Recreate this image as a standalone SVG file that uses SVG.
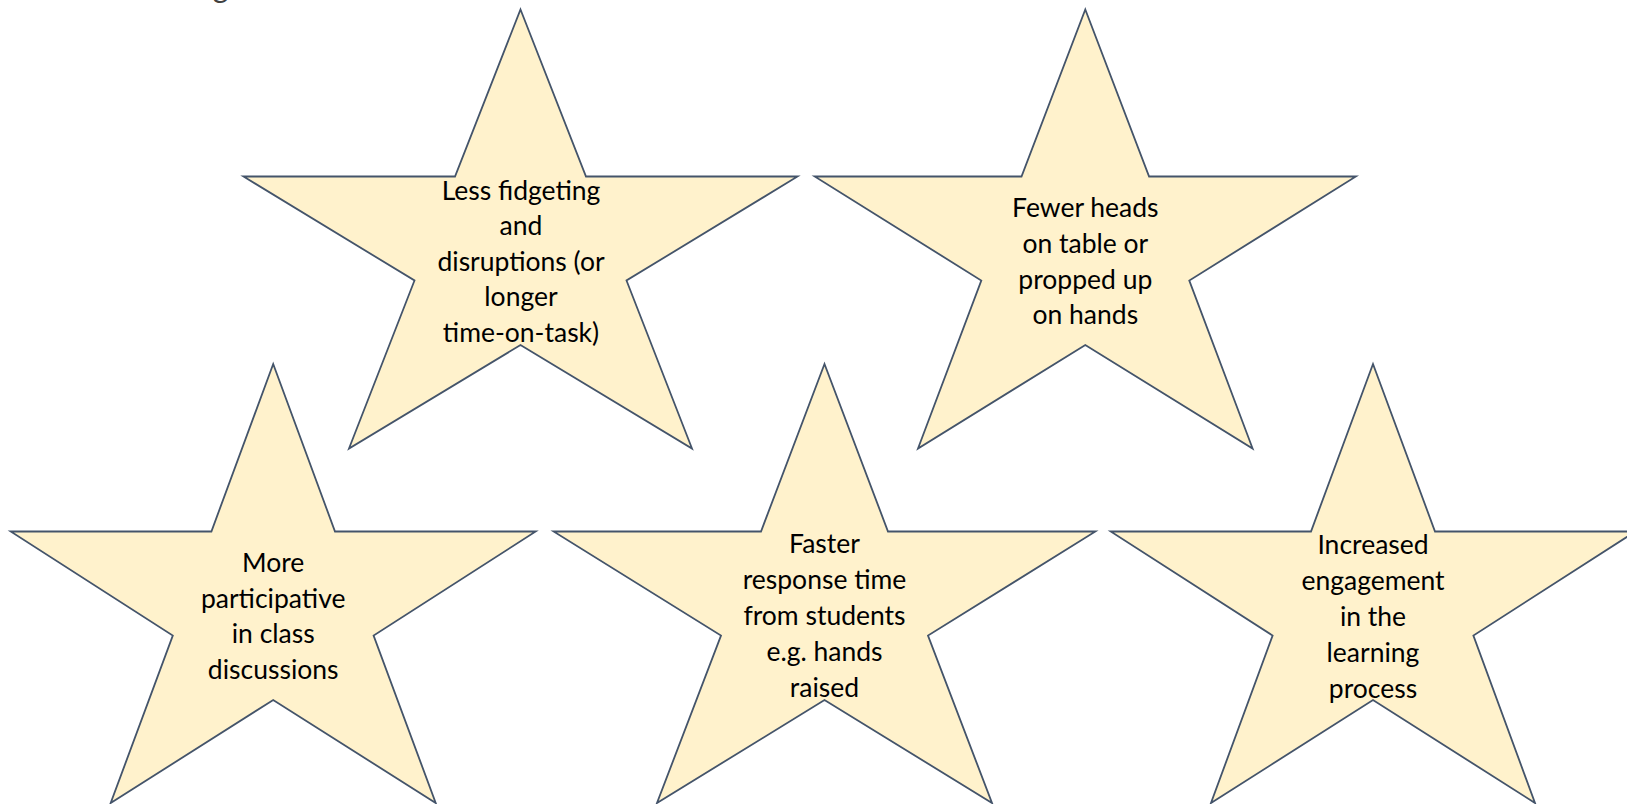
<svg xmlns="http://www.w3.org/2000/svg" width="1627" height="804" viewBox="0 0 1627 804">
  <style>
    .star { fill: #FFF2CC; stroke: #44546A; stroke-width: 1.8; stroke-linejoin: miter; }
    .lbl { font-family: Lato, "Open Sans", "Liberation Sans", sans-serif; font-size: 26.5px; fill: #000000; text-anchor: middle; }
    .title { font-family: Lato, "Open Sans", "Liberation Sans", sans-serif; font-size: 30px; fill: #404040; text-anchor: middle; }
  </style>
  <rect x="0" y="0" width="1627" height="804" fill="#FFFFFF"/>
  <text class="title" x="220.5" y="-2">g</text>
  <g id="connectors"></g>
  <g id="star-fidgeting">
    <polygon class="star" points="520.5,9.5 586,176.5 797.5,176.5 626.5,280.5 692,448.5 520.5,345 349,448.5 414.5,280.5 243.5,176.5 455,176.5"/>
    <text class="lbl" x="521" y="199.5">Less fidgeting</text>
    <text class="lbl" x="521" y="235">and</text>
    <text class="lbl" x="521" y="270.5">disruptions (or</text>
    <text class="lbl" x="521" y="306">longer</text>
    <text class="lbl" x="521" y="341.5">time-on-task)</text>
  </g>
  <g id="star-heads">
    <polygon class="star" points="1085.3,9.5 1149.1,176.5 1355.9,176.5 1189.3,280.5 1252.6,448.5 1085.3,345 918,448.5 981.3,280.5 814.7,176.5 1021.5,176.5"/>
    <text class="lbl" x="1085.3" y="216.7">Fewer heads</text>
    <text class="lbl" x="1085.3" y="252.7">on table or</text>
    <text class="lbl" x="1085.3" y="288.7">propped up</text>
    <text class="lbl" x="1085.3" y="324.3">on hands</text>
  </g>
  <g id="star-participative">
    <polygon class="star" points="273.2,364 335,531.5 535.7,531.5 373.6,635.5 435.7,803 273.2,700 110.7,803 172.8,635.5 10.7,531.5 211.4,531.5"/>
    <text class="lbl" x="273.2" y="571.7">More</text>
    <text class="lbl" x="273.2" y="607.7">participative</text>
    <text class="lbl" x="273.2" y="643.3">in class</text>
    <text class="lbl" x="273.2" y="679.3">discussions</text>
  </g>
  <g id="star-response">
    <polygon class="star" points="824.5,364 888,531.5 1095.4,531.5 928,635.5 992,803 824.5,700 657,803 721,635.5 553.6,531.5 761,531.5"/>
    <text class="lbl" x="824.5" y="553.3">Faster</text>
    <text class="lbl" x="824.5" y="589.3">response time</text>
    <text class="lbl" x="824.5" y="625.3">from students</text>
    <text class="lbl" x="824.5" y="661">e.g. hands</text>
    <text class="lbl" x="824.5" y="696.7">raised</text>
  </g>
  <g id="star-engagement">
    <polygon class="star" points="1373,364 1435,531.5 1635.3,531.5 1473.4,635.5 1535,803 1373,700 1211,803 1272.6,635.5 1110.7,531.5 1311,531.5"/>
    <text class="lbl" x="1373" y="554">Increased</text>
    <text class="lbl" x="1373" y="590">engagement</text>
    <text class="lbl" x="1373" y="626">in the</text>
    <text class="lbl" x="1373" y="662">learning</text>
    <text class="lbl" x="1373" y="698">process</text>
  </g>
</svg>
